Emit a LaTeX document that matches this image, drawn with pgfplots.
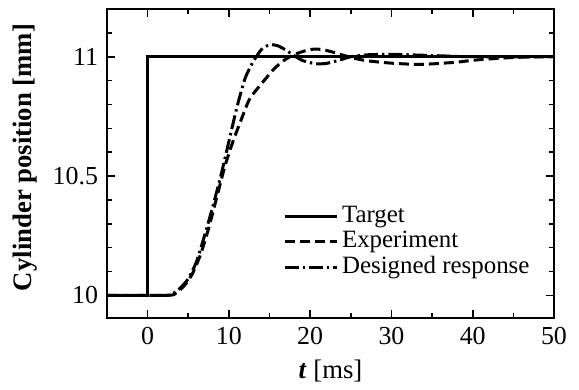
\documentclass[border=0pt]{standalone}
\usepackage{pgfplots}
\pgfplotsset{compat=1.18}
\usepackage{fontspec}
\setmainfont{Liberation Serif}
\begin{document}
\fontsize{13}{15}\selectfont
\begin{tikzpicture}[font=\fontsize{13}{15}\selectfont]
\begin{axis}[
  scale only axis,
  width=223.5bp, height=154.5bp,
  xmin=-5, xmax=50, ymin=9.905, ymax=11.2,
  xtick={0,10,20,30,40,50},
  minor xtick={5,15,25,35,45},
  ytick={10,10.5,11},
  minor ytick={10.1,10.2,10.3,10.4,10.6,10.7,10.8,10.9,11.1},
  major tick length=4bp, minor tick length=2.5bp,
  tick style={line width=0.8bp, black},
  axis line style={line width=1.3bp},
  tick align=inside,
  every tick label/.append style={font=\fontsize{13}{15}\selectfont},
  every axis label/.append style={font=\fontsize{13.4}{15}\selectfont},
  /pgf/number format/assume math mode=true,
  xlabel={\textbf{\textit{t}} [ms]},
  ylabel={\textbf{Cylinder position [mm]}},
  ylabel style={yshift=-1bp, xshift=3bp},
  xlabel style={yshift=1bp},
  legend cell align=left,
  legend style={draw=none, fill=none, at={(0.393,0.246)}, anchor=west,
    row sep=-1.5pt, inner sep=0pt,
    font=\fontsize{12.5}{15}\selectfont},
  legend image code/.code={\draw[#1] (0bp,0bp) -- (26bp,0bp);},
]
\coordinate (SW) at (rel axis cs:0,0);
\coordinate (NE) at (rel axis cs:1,1);
\addplot[black, line width=1.4bp] coordinates {
(-5,10) (0,10) (0,11) (50,11)
};
\addlegendentry{Target}
\addplot[black, line width=1.5bp, dash pattern=on 5bp off 2.5bp, smooth, tension=0.4] coordinates {
(-5,10) (2.5,10) (3.5,10.01) (4.5,10.04) (5.5,10.09) (6.5,10.17) (7.5,10.28) (8.5,10.41)
(9.5,10.54) (10.5,10.645) (11.5,10.735) (12.5,10.82) (13.5,10.866) (14.5,10.907) (15.5,10.947)
(16.5,10.978) (17.5,11.0) (18.5,11.015) (19.5,11.026) (20.5,11.032) (21.5,11.03) (22.5,11.022)
(23.5,11.012) (24.5,11.002) (25.5,10.993) (27,10.983) (30,10.973) (33,10.968) (35,10.97)
(38,10.977) (40,10.985) (43,10.993) (46,10.998) (50,11.0)
};
\addlegendentry{Experiment}
\addplot[black, line width=1.5bp, dash pattern=on 7bp off 2bp on 1.2bp off 2bp, smooth, tension=0.4] coordinates {
(-5,10) (2,10) (3,10.005) (4,10.03) (5,10.07) (6,10.14) (7,10.25) (8,10.37) (9,10.5)
(10,10.645) (11,10.79) (12,10.91) (13,10.98) (14,11.03) (15,11.05) (16,11.046)
(17,11.028) (18,11.005) (19,10.985) (20,10.975) (21,10.97) (22,10.972) (23,10.98) (24,10.99)
(25,11.0) (27,11.008) (30,11.01) (35,11.005) (40,11.0) (50,11.0)
};
\addlegendentry{Designed response}
\end{axis}
\pgfresetboundingbox
\path (SW) ++(-53.5bp,-36bp);
\path (NE) ++(12.5bp,4.5bp);
\end{tikzpicture}
\end{document}
